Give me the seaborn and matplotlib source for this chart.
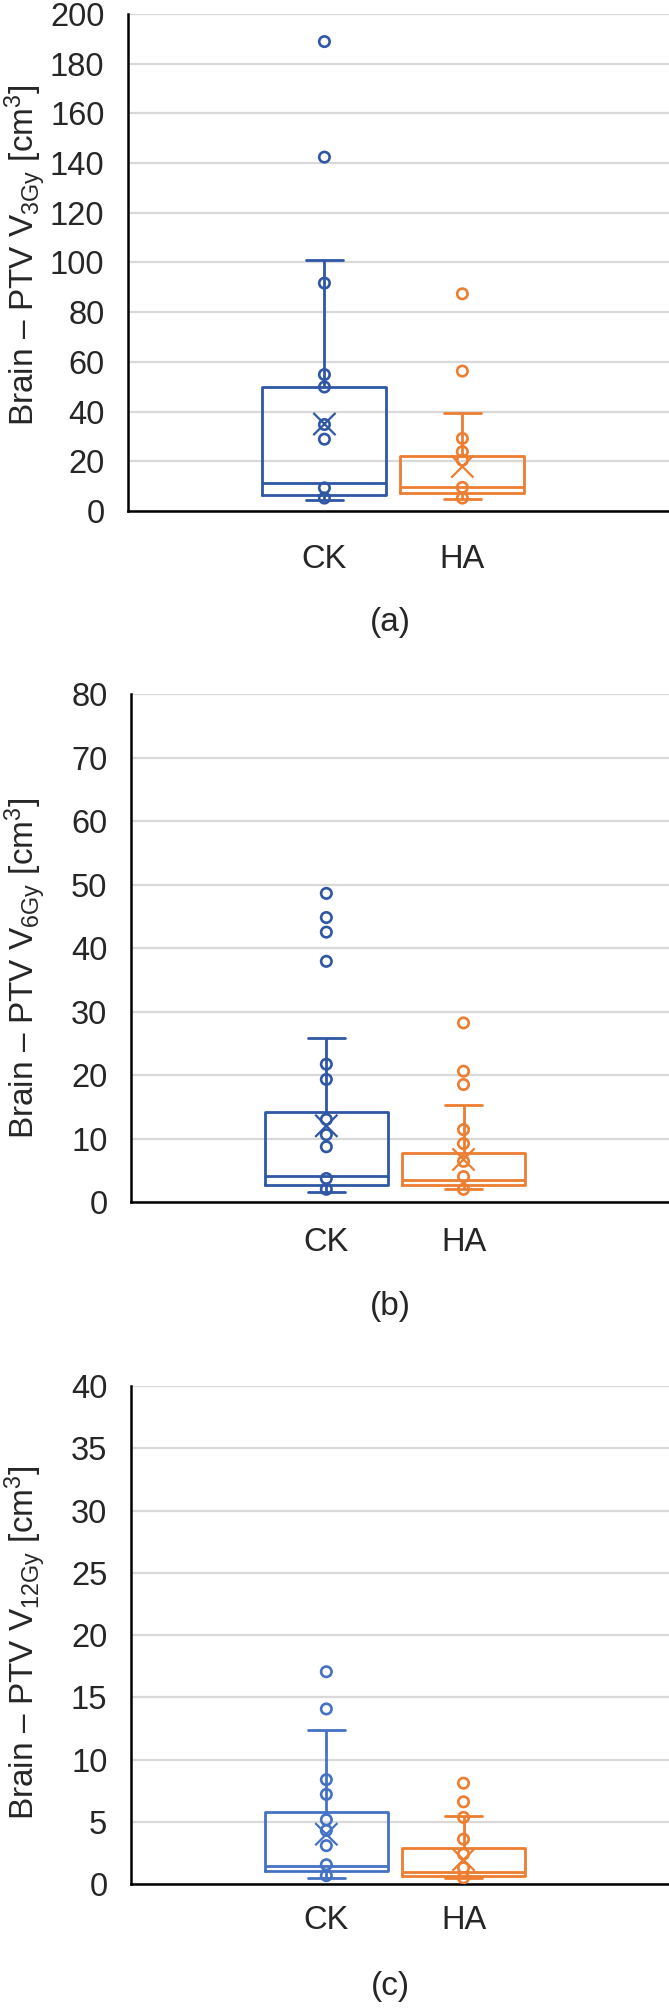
import numpy as np
import pandas as pd
import seaborn as sns
import matplotlib.pyplot as plt

groups = ["CK", "HA"]

# (a) Brain - PTV V3Gy
a_ck_pts = [188.9, 142.4, 91.7, 54.9, 49.9, 34.8, 28.9, 9.3, 5.2]
a_ha_pts = [87.4, 56.3, 29.2, 23.9, 20.4, 9.5, 5.2]
a_whislo = [4.3, 4.9]
a_q1 = [6.6, 7.1]
a_med = [11.3, 9.7]
a_q3 = [50.1, 22.3]
a_whishi = [101.2, 39.4]
a_mean = [35.0, 17.9]

# (b) Brain - PTV V6Gy
b_ck_pts = [48.6, 44.8, 42.5, 37.9, 21.7, 19.3, 13.0, 10.6, 8.7, 3.7, 2.0]
b_ha_pts = [28.2, 20.6, 18.5, 11.4, 9.2, 6.4, 4.0, 2.0]
b_whislo = [1.5, 2.0]
b_q1 = [2.6, 2.6]
b_med = [4.1, 3.4]
b_q3 = [14.1, 7.7]
b_whishi = [25.9, 15.3]
b_mean = [12.0, 6.7]

# (c) Brain - PTV V12Gy
c_ck_pts = [17.05, 14.06, 8.38, 7.2, 5.16, 4.3, 3.08, 1.55, 0.67]
c_ha_pts = [8.1, 6.6, 5.35, 3.6, 2.4, 1.3, 0.5]
c_whislo = [0.5, 0.45]
c_q1 = [1.01, 0.62]
c_med = [1.45, 1.0]
c_q3 = [5.78, 2.86]
c_whishi = [12.37, 5.43]
c_mean = [4.0, 1.95]

sns.set_style("white")
plt.rcParams["font.family"] = ["Liberation Sans", "DejaVu Sans"]
plt.rcParams["mathtext.fontset"] = "custom"
plt.rcParams["mathtext.rm"] = "Liberation Sans"
plt.rcParams["mathtext.it"] = "Liberation Sans:italic"

W, H = 669, 2010
fig = plt.figure(figsize=(W / 100, H / 100), dpi=100)

FS = 23.5
BOXW = 0.9
CAPW = 0.27


def draw_panel(ax, ck_pts, ha_pts, whislo, q1, med, q3, whishi, mean, colors, ymax, step, xpad):
    # five-number summary fed to seaborn so its percentiles land on the read values
    summary = pd.DataFrame({
        "group": np.repeat(groups, 5),
        "value": np.ravel(np.column_stack([whislo, q1, med, q3, whishi])),
    })
    sns.boxplot(data=summary, x="group", y="value", hue="group", order=groups,
                hue_order=groups, palette=colors, fill=False, whis=(0, 100),
                width=BOXW, linewidth=2.0, showfliers=False, legend=False, ax=ax)

    # shorten caps
    for ln in ax.lines:
        xd = np.asarray(ln.get_xdata(), dtype=float)
        yd = np.asarray(ln.get_ydata(), dtype=float)
        if len(xd) == 2 and yd[0] == yd[1] and abs(xd[1] - xd[0]) < 0.8 * BOXW:
            c = xd.mean()
            ln.set_xdata([c - CAPW / 2, c + CAPW / 2])

    pts = pd.DataFrame({"group": ["CK"] * len(ck_pts) + ["HA"] * len(ha_pts),
                        "value": ck_pts + ha_pts})
    n0 = len(ax.collections)
    sns.stripplot(data=pts, x="group", y="value", hue="group", order=groups,
                  hue_order=groups, palette=colors, jitter=False, size=7.5,
                  linewidth=1.9, legend=False, ax=ax, zorder=4)
    means = pd.DataFrame({"group": groups, "value": mean})
    sns.stripplot(data=means, x="group", y="value", hue="group", order=groups,
                  hue_order=groups, palette=colors, jitter=False, marker="x",
                  size=16, linewidth=1.6, legend=False, ax=ax, zorder=5)
    for coll in ax.collections[n0:]:
        fc = coll.get_facecolors()
        coll.set_edgecolors(fc)
        coll.set_facecolors("none")

    ax.set_xlim(-1.424, 2.498)
    ax.set_ylim(0, ymax)
    ax.set_yticks(np.arange(0, ymax + step / 2, step))
    ax.yaxis.grid(True, color="#D9D9D9", linewidth=1.6)
    ax.xaxis.grid(False)
    ax.set_axisbelow(True)
    for s in ["top", "right"]:
        ax.spines[s].set_visible(False)
    for s in ["left", "bottom"]:
        ax.spines[s].set_color("black")
        ax.spines[s].set_linewidth(1.8)
    ax.tick_params(axis="y", length=0, pad=17, labelsize=FS)
    ax.tick_params(axis="x", length=0, pad=xpad, labelsize=FS)
    ax.set_xlabel("")
    ax.set_ylabel("")


blue_dark = "#2F57A5"
blue_light = "#4472C4"
orange = "#ED7D31"

ax_a = fig.add_axes([128 / W, 1 - 511 / H, 1 - 128 / W, 497 / H])
draw_panel(ax_a, a_ck_pts, a_ha_pts, a_whislo, a_q1, a_med, a_q3, a_whishi, a_mean,
           [blue_dark, orange], 200, 20, 24)

ax_b = fig.add_axes([131 / W, 1 - 1202 / H, 1 - 131 / W, 508 / H])
draw_panel(ax_b, b_ck_pts, b_ha_pts, b_whislo, b_q1, b_med, b_q3, b_whishi, b_mean,
           [blue_dark, orange], 80, 10, 18)

ax_c = fig.add_axes([131 / W, 1 - 1884 / H, 1 - 131 / W, 498 / H])
draw_panel(ax_c, c_ck_pts, c_ha_pts, c_whislo, c_q1, c_med, c_q3, c_whishi, c_mean,
           [blue_light, orange], 40, 5, 15)

ylabels = [r"Brain – PTV V$_{\mathrm{3Gy}}$ [cm$^{\mathrm{3}}$]",
           r"Brain – PTV V$_{\mathrm{6Gy}}$ [cm$^{\mathrm{3}}$]",
           r"Brain – PTV V$_{\mathrm{12Gy}}$ [cm$^{\mathrm{3}}$]"]
ylabel_y = [255, 968, 1643]
tags = ["(a)", "(b)", "(c)"]
tag_y = [622, 1307, 1986]

for lab, yy in zip(ylabels, ylabel_y):
    fig.text(3 / W, 1 - yy / H, lab, rotation=90, ha="left", va="center", fontsize=24)
for t, yy in zip(tags, tag_y):
    fig.text(390 / W, 1 - yy / H, t, ha="center", va="center", fontsize=24)

fig.savefig("out.png", dpi=100)
